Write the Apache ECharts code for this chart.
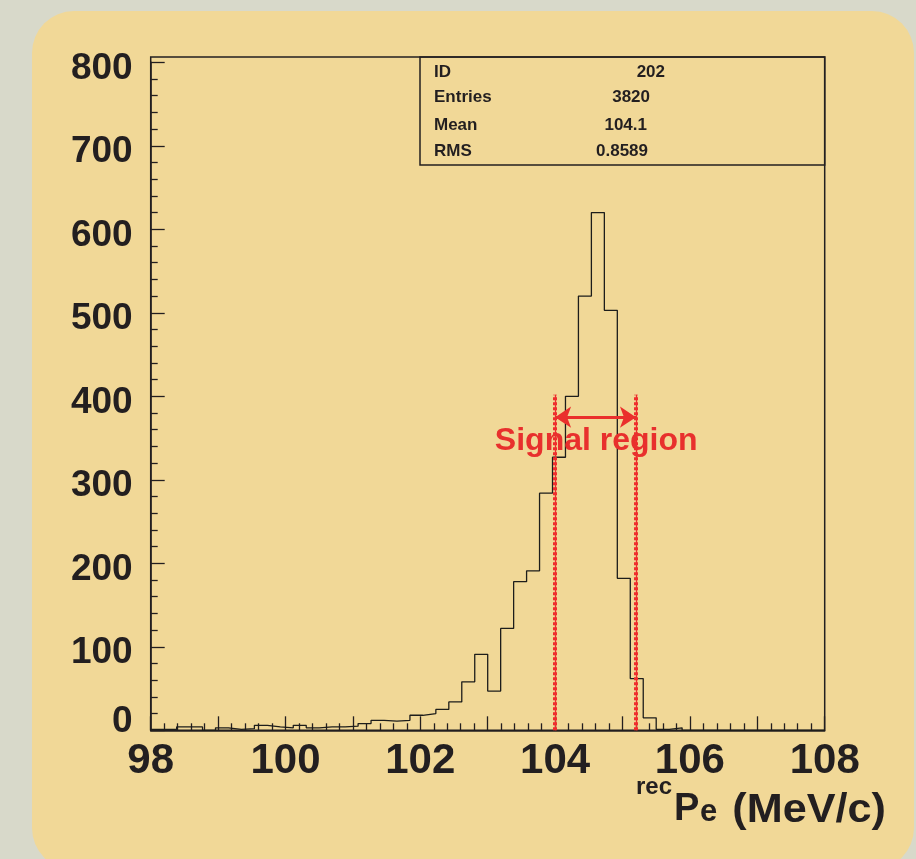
<!DOCTYPE html>
<html>
<head>
<meta charset="utf-8">
<script src="https://cdn.jsdelivr.net/npm/echarts@6/dist/echarts.min.js"></script>
<style>
  html, body { margin: 0; padding: 0; background: #d8d9ca; }
  #chart { width: 916px; height: 859px; }
</style>
</head>
<body>
<div id="chart"></div>
<script>
// ---- data ----
const binLo = 98;
const binHi = 108;
const counts = [
  1, 1, 4, 4, 0, 3, 1, 2, 6, 4,
  3, 6, 3, 4, 4, 5, 8, 12, 11, 12,
  18, 20, 25, 34, 58, 91, 47, 122, 178, 191,
  284, 327, 400, 520, 620, 503, 182, 62, 15, 1,
  3, 0, 0, 0, 0, 0, 0, 0, 0, 0,
  0, 0
];
const xTickLabels = [98, 100, 102, 104, 106, 108];
const yTickLabels = [0, 100, 200, 300, 400, 500, 600, 700, 800];
const signalRange = [104.0, 105.2];
const signalLineTop = 402;
const signalArrowY = 375;
const signalText = 'Signal region';
const signalTextPos = [104.61, 346];
const statLabels = ['ID', 'Entries', 'Mean', 'RMS'];
const statValues = ['202', '3820', '104.1', '0.8589'];

// ---- build ----
const binW = (binHi - binLo) / counts.length;
const histData = counts.map((c, i) => [binLo + i * binW, c]);
histData.push([binHi, counts[counts.length - 1]]);

const FONT = '"Liberation Sans", Arial, Helvetica, sans-serif';
const INK = '#231f20';
const RED = '#ea2f2c';

const gridPos = { left: 150.7, right: 91.3, bottom: 128.7 };

const chart = echarts.init(document.getElementById('chart'), null, { renderer: 'canvas' });

// stats box graphics
const statGraphics = [{
  type: 'rect', shape: { x: 420, y: 57, width: 404.7, height: 108 },
  style: { fill: 'none', stroke: INK, lineWidth: 1.5 }, z: 10
}];
const rowY = [72, 97, 125, 151];
const valRight = [665, 650, 647, 648];
statLabels.forEach((t, i) => {
  statGraphics.push({ type: 'text', x: 434, y: rowY[i], z: 10,
    style: { text: t, font: 'bold 17px ' + FONT, fill: INK, align: 'left', verticalAlign: 'middle' } });
  statGraphics.push({ type: 'text', x: valRight[i], y: rowY[i], z: 10,
    style: { text: statValues[i], font: 'bold 17px ' + FONT, fill: INK, align: 'right', verticalAlign: 'middle' } });
});

const option = {
  animation: false,
  backgroundColor: 'transparent',
  graphic: [
    { type: 'rect', shape: { x: 32, y: 11, width: 882, height: 859, r: 42 },
      style: { fill: '#f1d897' }, z: -10 },
    ...statGraphics,
    { type: 'text', x: 636, y: 787, z: 10,
      style: { text: 'rec', font: 'bold 24px ' + FONT, fill: INK, align: 'left', verticalAlign: 'middle' } },
    { type: 'text', x: 674, y: 810, z: 10,
      style: { text: 'P', font: 'bold 38px ' + FONT, fill: INK, align: 'left', verticalAlign: 'middle' } },
    { type: 'text', x: 700, y: 812, z: 10,
      style: { text: 'e', font: 'bold 31px ' + FONT, fill: INK, align: 'left', verticalAlign: 'middle' } },
    { type: 'text', x: 886, y: 811, z: 10, scaleX: 1.08, originX: 0, originY: 0,
      style: { text: '(MeV/c)', font: 'bold 40px ' + FONT, fill: INK, align: 'right', verticalAlign: 'middle' } }
  ],
  grid: [
    Object.assign({ top: 57, show: true, borderColor: INK, borderWidth: 1.5, backgroundColor: 'transparent' }, gridPos),
    Object.assign({ top: 62.3 }, gridPos)
  ],
  xAxis: [
    { type: 'value', gridIndex: 0, min: 0, max: 1, show: false },
    {
      type: 'value', gridIndex: 1, min: binLo, max: binHi, interval: 1,
      axisLine: { show: true, lineStyle: { color: INK, width: 1.5 } },
      axisTick: { show: true, inside: true, length: 14, lineStyle: { color: INK, width: 1.3 } },
      minorTick: { show: true, splitNumber: 5, length: 7, lineStyle: { color: INK, width: 1.3 } },
      splitLine: { show: false },
      axisLabel: {
        show: true, margin: 10, color: INK, fontFamily: FONT, fontWeight: 'bold', fontSize: 42,
        formatter: v => (xTickLabels.indexOf(Math.round(v)) >= 0 && Math.abs(v - Math.round(v)) < 1e-6) ? String(Math.round(v)) : ''
      }
    }
  ],
  yAxis: [
    { type: 'value', gridIndex: 0, min: 0, max: 1, show: false },
    {
      type: 'value', gridIndex: 1, min: 0, max: 800, interval: 100,
      axisLine: { show: true, lineStyle: { color: INK, width: 1.5 } },
      axisTick: { show: true, inside: true, length: 14, lineStyle: { color: INK, width: 1.3 } },
      minorTick: { show: true, splitNumber: 5, length: 7, lineStyle: { color: INK, width: 1.3 } },
      splitLine: { show: false },
      axisLabel: {
        show: true, margin: 18, color: INK, fontFamily: FONT, fontWeight: 'bold', fontSize: 37,
        formatter: v => yTickLabels.indexOf(v) < 0 ? '' : (v === 0 ? '{z|0}' : '{n|' + v + '}'),
        rich: {
          z: { fontFamily: FONT, fontWeight: 'bold', fontSize: 37, color: INK, padding: [0, 0, 18, 0] },
          n: { fontFamily: FONT, fontWeight: 'bold', fontSize: 37, color: INK, padding: [12, 0, 0, 0] }
        }
      }
    }
  ],
  series: [
    {
      type: 'line', xAxisIndex: 1, yAxisIndex: 1, data: histData, step: 'end',
      symbol: 'none', lineStyle: { color: '#1d1d1b', width: 1.3 }, z: 3, silent: true
    },
    {
      type: 'line', xAxisIndex: 1, yAxisIndex: 1, data: [], silent: true, z: 5,
      markLine: {
        silent: true, symbol: ['none', 'none'], animation: false,
        label: { show: false },
        lineStyle: { color: RED, width: 1.3, type: 'solid', opacity: 1 },
        data: signalRange.map(x => [{ coord: [x, 0] }, { coord: [x, signalLineTop] }])
      }
    },
    {
      type: 'line', xAxisIndex: 1, yAxisIndex: 1, data: [], silent: true, z: 6,
      markLine: {
        silent: true, symbol: ['none', 'none'], animation: false,
        label: { show: false },
        lineStyle: { color: '#ef2d2d', width: 4, type: [3, 2], opacity: 1 },
        data: signalRange.map(x => [{ coord: [x, 0] }, { coord: [x, signalLineTop] }])
      }
    },
    {
      type: 'line', xAxisIndex: 1, yAxisIndex: 1, data: [], silent: true, z: 7,
      markLine: {
        silent: true, symbol: ['arrow', 'arrow'], symbolSize: 16, animation: false,
        label: { show: false },
        lineStyle: { color: RED, width: 3, type: 'solid', opacity: 1 },
        itemStyle: { color: RED },
        data: [[{ coord: [signalRange[0], signalArrowY] }, { coord: [signalRange[1], signalArrowY] }]]
      }
    },
    {
      type: 'scatter', xAxisIndex: 1, yAxisIndex: 1, data: [signalTextPos], symbolSize: 0, silent: true, z: 8,
      itemStyle: { opacity: 1 },
      label: { show: true, position: 'inside', formatter: signalText, color: '#e8302d', opacity: 1,
        fontFamily: FONT, fontWeight: 'bold', fontSize: 32 }
    }
  ]
};
chart.setOption(option);
</script>
</body>
</html>
